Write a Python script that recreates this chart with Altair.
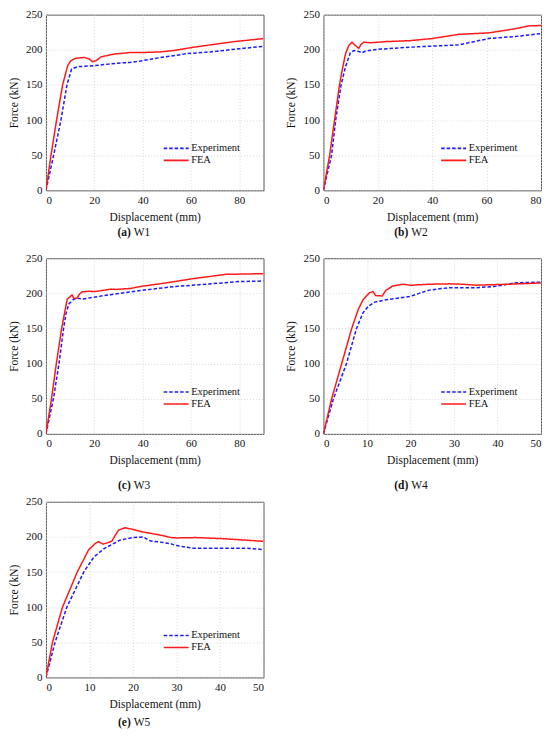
import altair as alt
import pandas as pd

# ---------------- data ----------------
a_exp_x = [0, 3.2, 6.2, 8.7, 10.6, 13.1, 20, 29.5, 34.5, 39, 47.4, 58.4, 68, 80, 90]
a_exp_y = [0, 50, 100, 150, 172.7, 176, 177.4, 181, 182, 184, 189, 194.5, 197, 201.5, 205]
a_fea_x = [0, 2.1, 4.4, 6.9, 9.0, 10.3, 12.4, 15.9, 17.9, 19.3, 20.7, 22.8, 28.3, 31.7, 34.5, 39, 47.4, 53, 59.8, 68, 77.6, 90]
a_fea_y = [0, 50, 100, 150, 177.4, 184.5, 188, 189, 187, 183, 184.5, 190, 194, 195, 196, 196, 197, 199, 203, 207, 211.5, 216]

b_exp_x = [0, 3.0, 4.5, 6.5, 8.1, 9.9, 11.2, 13.0, 14.2, 15.4, 19.6, 31.8, 49.7, 60.7, 70.6, 80]
b_exp_y = [0, 50, 100, 150, 175.6, 195.8, 199, 197.7, 195.8, 198, 200.5, 203.7, 207, 216, 219, 223]
b_fea_x = [0, 2.3, 4.1, 5.9, 6.9, 8.1, 9.3, 10.5, 11.8, 13.0, 13.8, 14.8, 17.2, 23.3, 31.8, 39.9, 49.7, 60.7, 70.6, 75.5, 80]
b_fea_y = [0, 50, 100, 150, 171, 194, 206, 210.8, 206, 202, 207.5, 210.8, 210, 211.7, 213, 216, 222, 224, 230, 234, 234.6]

c_exp_x = [0, 3.1, 5.4, 7.3, 8.4, 9.5, 11.5, 13.5, 14.9, 18.9, 25.7, 35, 39, 52.8, 66.3, 79.8, 90]
c_exp_y = [0, 50, 100, 150, 173, 184.8, 191.7, 193, 191.7, 194, 197.7, 202, 204, 209.5, 213, 216.7, 217.6]
c_fea_x = [0, 2.3, 4.3, 6.5, 8.8, 10.8, 11.5, 12.8, 13.8, 14.9, 17.6, 20.3, 27, 29, 35, 39, 50, 61, 74.4, 90]
c_fea_y = [0, 50, 100, 150, 191.7, 197.7, 193, 193, 198.6, 202, 203, 202.5, 206, 205.5, 207, 209.7, 215, 221, 227, 228]

d_exp_x = [0, 2.3, 5.3, 7.6, 9.1, 10.3, 11.8, 14.4, 19.8, 22.0, 24.3, 28.9, 35, 39.6, 44.2, 50]
d_exp_y = [0, 50, 100, 150, 172.3, 181.5, 187.5, 190.8, 195.4, 200, 204.6, 208, 208, 210, 215, 216]
d_fea_x = [0, 1.9, 4.2, 6.5, 8.0, 9.1, 10.6, 11.4, 12.0, 13.5, 14.4, 16.0, 18.3, 20.0, 24.3, 28.9, 32, 35, 42.6, 50]
d_fea_y = [0, 50, 100, 150, 177, 190.8, 201, 202.4, 196.8, 196.3, 204.6, 210.6, 213, 211.5, 213, 213.5, 213, 211.6, 213, 214.8]

e_exp_x = [0, 2.1, 4.8, 8.7, 11.0, 13.3, 17.0, 20.0, 22.3, 23.9, 26.9, 28.8, 30, 33.8, 39.9, 46, 50]
e_exp_y = [0, 50, 100, 150, 171.3, 183, 195.4, 199, 200, 194.4, 192, 190, 187.6, 184, 184, 184, 182]
e_fea_x = [0, 1.5, 3.8, 7.2, 9.8, 11.4, 12.1, 13.1, 14.4, 15.2, 15.9, 16.7, 18.2, 20.0, 22.3, 26.1, 28.8, 30, 34.5, 40.6, 50]
e_fea_y = [0, 50, 100, 150, 181.5, 191, 193, 189.8, 192, 194.4, 202, 209.7, 213, 210.6, 207, 202.8, 199, 198.5, 199, 197.5, 193.7]

series_names = ["Experiment", "FEA"]
x_max = [90, 80, 90, 50, 50]
x_ticks = [[0, 20, 40, 60, 80], [0, 20, 40, 60, 80], [0, 20, 40, 60, 80],
           [0, 10, 20, 30, 40, 50], [0, 10, 20, 30, 40, 50]]
y_ticks = [0, 50, 100, 150, 200, 250]
tags = ["(a)", "(b)", "(c)", "(d)", "(e)"]
names = ["W1", "W2", "W3", "W4", "W5"]

FONT = "Liberation Serif"
W, H = 218, 176
cap_dy = [43, 43, 52, 52, 46]


def build_df(ex, ey, fx, fy):
    rows = []
    for i, (x, y) in enumerate(zip(ex, ey)):
        rows.append({"d": x, "f": y, "series": series_names[0], "i": i})
    for i, (x, y) in enumerate(zip(fx, fy)):
        rows.append({"d": x, "f": y, "series": series_names[1], "i": i})
    return pd.DataFrame(rows)


def panel(k, ex, ey, fx, fy):
    df = build_df(ex, ey, fx, fy)
    leg = alt.Legend(title=None, orient="none", legendX=124.5, legendY=128, padding=0,
                     symbolType="M-2.5,0H2.5", symbolSize=100, symbolStrokeWidth=1.6,
                     labelFont=FONT, labelFontSize=10.5, labelColor="#111",
                     rowPadding=0, labelOffset=9)
    lines = alt.Chart(df).mark_line(strokeWidth=1.5, clip=True).encode(
        x=alt.X("d:Q", title="Displacement (mm)",
                scale=alt.Scale(domain=[0, x_max[k]], nice=False),
                axis=alt.Axis(values=x_ticks[k], format="d", labelFont=FONT, titleFont=FONT)),
        y=alt.Y("f:Q", title="Force (kN)",
                scale=alt.Scale(domain=[0, 250], nice=False),
                axis=alt.Axis(values=y_ticks, format="d", labelFont=FONT, titleFont=FONT)),
        color=alt.Color("series:N", scale=alt.Scale(domain=series_names, range=["#1a1aff", "#ff1a1a"]), legend=leg),
        strokeDash=alt.StrokeDash("series:N", scale=alt.Scale(domain=series_names, range=[[3.5, 2], [1, 0]]), legend=leg),
        order=alt.Order("i:Q"),
    )
    tag_df = pd.DataFrame({"t": [tags[k]]})
    name_df = pd.DataFrame({"t": [names[k]]})
    tag_txt = alt.Chart(tag_df).mark_text(font=FONT, fontSize=11.5, fontWeight="bold",
                                          align="right", baseline="middle", color="#111").encode(
        text="t:N", x=alt.value(85), y=alt.value(H + cap_dy[k]))
    name_txt = alt.Chart(name_df).mark_text(font=FONT, fontSize=11.5, align="left",
                                            baseline="middle", color="#111").encode(
        text="t:N", x=alt.value(88), y=alt.value(H + cap_dy[k]))
    return alt.layer(lines, tag_txt, name_txt).properties(width=W, height=H)


charts = [
    panel(0, a_exp_x, a_exp_y, a_fea_x, a_fea_y),
    panel(1, b_exp_x, b_exp_y, b_fea_x, b_fea_y),
    panel(2, c_exp_x, c_exp_y, c_fea_x, c_fea_y),
    panel(3, d_exp_x, d_exp_y, d_fea_x, d_fea_y),
    panel(4, e_exp_x, e_exp_y, e_fea_x, e_fea_y),
]

chart = alt.concat(*charts, columns=2, spacing={"row": 68, "column": 60}, bounds="flush").resolve_scale(
    color="independent", strokeDash="independent", x="independent", y="independent"
).resolve_legend(color="independent", strokeDash="independent").properties(
    padding={"left": 0, "top": -1, "right": 0, "bottom": 0}
).configure(font=FONT).configure_view(stroke="#555", strokeWidth=1).configure_axis(
    labelFont=FONT, labelFontSize=11, labelColor="#111", labelPadding=4,
    titleFont=FONT, titleFontSize=11.5, titleFontWeight="normal", titleColor="#111",
    ticks=False, tickSize=0, domain=False,
    grid=True, gridColor="#cfcfcf", gridDash=[1, 2], gridWidth=0.8,
).configure_axisX(titlePadding=6).configure_axisY(titlePadding=6).configure_legend(
    labelFont=FONT
)

chart.save("out.html", embed_options={"renderer": "svg", "actions": False})
